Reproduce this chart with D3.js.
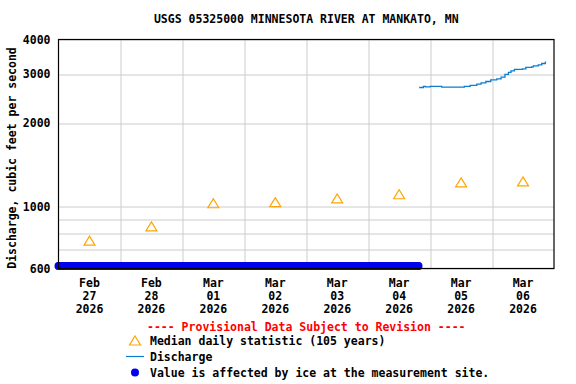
<!DOCTYPE html>
<html>
<head>
<meta charset="utf-8">
<script src="https://cdn.jsdelivr.net/npm/d3@7"></script>
<style>
  body { margin: 0; background: #fff; }
  text { font-family: "DejaVu Sans Mono", "Liberation Mono", monospace; font-weight: bold; font-size: 11.5px; }
</style>
</head>
<body>
<div id="wrapper"></div>
<script>
// daily medians (105 years), plotted at noon
const medianDays = ["2026-02-27", "2026-02-28", "2026-03-01", "2026-03-02", "2026-03-03", "2026-03-04", "2026-03-05", "2026-03-06"];
const medianValues = [756, 851, 1030, 1040, 1072, 1110, 1225, 1235];

// discharge, cfs (after ice went out)
const dischargeTimes = ["2026-03-04T19:45", "2026-03-04T21:25", "2026-03-04T22:10", "2026-03-05T00:00", "2026-03-05T04:30",
  "2026-03-05T12:50", "2026-03-05T13:15", "2026-03-05T15:30", "2026-03-05T18:05", "2026-03-05T19:45",
  "2026-03-05T21:35", "2026-03-05T23:30", "2026-03-06T01:50", "2026-03-06T03:30", "2026-03-06T05:00",
  "2026-03-06T06:20", "2026-03-06T07:20", "2026-03-06T08:40", "2026-03-06T11:45", "2026-03-06T13:05",
  "2026-03-06T15:20", "2026-03-06T16:00", "2026-03-06T17:55", "2026-03-06T19:15", "2026-03-06T20:40"];
const dischargeValues = [2688, 2711, 2700, 2711, 2696,
  2696, 2711, 2734, 2763, 2793,
  2825, 2863, 2887, 2928, 2994,
  3044, 3085, 3121, 3136, 3173,
  3188, 3215, 3242, 3279, 3334];

// period where values are affected by ice (15-minute readings)
const iceStart = "2026-02-27T00:00";
const iceEnd = "2026-03-04T19:30";

const yTicks = [600, 1000, 2000, 3000, 4000];
const yGrid = [600, 700, 800, 900, 1000, 2000, 3000, 4000];
const xDays = ["2026-02-27", "2026-02-28", "2026-03-01", "2026-03-02", "2026-03-03", "2026-03-04", "2026-03-05", "2026-03-06", "2026-03-07"];

const title = "USGS 05325000 MINNESOTA RIVER AT MANKATO, MN";
const yLabel = "Discharge, cubic feet per second";

const parse = d3.utcParse("%Y-%m-%dT%H:%M");
const parseDay = d3.utcParse("%Y-%m-%d");

const margin = {top: 39.5, right: 22, bottom: 115.5, left: 58.5};
const W = 576, H = 384;
const width = W - margin.left - margin.right;
const height = H - margin.top - margin.bottom;

const svg = d3.select("#wrapper").append("svg")
  .attr("width", W)
  .attr("height", H);

const g = svg.append("g")
  .attr("transform", `translate(${margin.left},${margin.top})`);

const xScale = d3.scaleUtc()
  .domain([parseDay(xDays[0]), parseDay(xDays[xDays.length - 1])])
  .range([0, width]);

const yScale = d3.scaleLog()
  .domain([600, 4000])
  .range([height, 0]);

const lineColor = "#0a7dcf";
const triColor = "#ffa500";
const iceColor = "#0000ee";

// grid
g.append("g").selectAll("line.h")
  .data(yGrid)
  .join("line")
  .attr("x1", 0).attr("x2", width)
  .attr("y1", d => Math.round(yScale(d)) + 0.5)
  .attr("y2", d => Math.round(yScale(d)) + 0.5)
  .attr("stroke", "#cccccc");

g.append("g").selectAll("line.v")
  .data(xDays.slice(1, -1).map(parseDay))
  .join("line")
  .attr("x1", d => Math.round(xScale(d)) + 0.5)
  .attr("x2", d => Math.round(xScale(d)) + 0.5)
  .attr("y1", 0).attr("y2", height)
  .attr("stroke", "#cccccc");

// y tick labels
g.append("g").selectAll("text")
  .data(yTicks)
  .join("text")
  .attr("x", -8)
  .attr("y", d => yScale(d))
  .attr("dy", "0.35em")
  .attr("text-anchor", "end")
  .text(d => d);

// x tick labels (at noon of each day)
const fmtMon = d3.utcFormat("%b"), fmtDay = d3.utcFormat("%d"), fmtYear = d3.utcFormat("%Y");
const xl = g.append("g").selectAll("text")
  .data(xDays.slice(0, -1).map(parseDay))
  .join("text")
  .attr("text-anchor", "middle")
  .attr("transform", d => `translate(${xScale(d3.utcHour.offset(d, 12))},${height + 18})`);
xl.append("tspan").attr("x", 0).attr("y", 0).text(d => fmtMon(d));
xl.append("tspan").attr("x", 0).attr("y", 13).text(d => fmtDay(d));
xl.append("tspan").attr("x", 0).attr("y", 26).text(d => fmtYear(d));

// open triangle marker, centred on its box
const tri = "M0,-4.5L5.5,4.5L-5.5,4.5Z";

// median triangles
g.append("g").selectAll("path")
  .data(medianDays.map((d, i) => ({t: d3.utcHour.offset(parseDay(d), 12), v: medianValues[i]})))
  .join("path")
  .attr("d", tri)
  .attr("transform", d => `translate(${xScale(d.t)},${yScale(d.v)})`)
  .attr("fill", "none")
  .attr("stroke", triColor)
  .attr("stroke-width", 1.2);

// discharge line
const discharge = dischargeTimes.map((d, i) => ({t: parse(d), v: dischargeValues[i]}));
g.append("path")
  .datum(discharge)
  .attr("fill", "none")
  .attr("stroke", lineColor)
  .attr("stroke-width", 1.3)
  .attr("d", d3.line().curve(d3.curveStepAfter).x(d => xScale(d.t)).y(d => yScale(d.v)));

// ice-affected readings, drawn at the bottom of the axis
const iceTimes = d3.utcMinute.every(15).range(parse(iceStart), d3.utcMinute.offset(parse(iceEnd), 1));
g.append("g").selectAll("circle")
  .data(iceTimes)
  .join("circle")
  .attr("cx", d => xScale(d))
  .attr("cy", yScale(600) - 2.5)
  .attr("r", 4)
  .attr("fill", iceColor);

// frame
g.append("rect")
  .attr("width", width).attr("height", height)
  .attr("fill", "none")
  .attr("stroke", "#000")
  .attr("stroke-width", 1.2);

// title and axis label
svg.append("text")
  .attr("x", margin.left + width / 2)
  .attr("y", 23)
  .attr("text-anchor", "middle")
  .text(title);

svg.append("text")
  .attr("transform", `translate(16,${margin.top + height / 2 + 4}) rotate(-90)`)
  .attr("text-anchor", "middle")
  .text(yLabel);

// legend
const lg = svg.append("g");
lg.append("text")
  .attr("x", margin.left + width / 2)
  .attr("y", 331)
  .attr("text-anchor", "middle")
  .attr("fill", "#ff0000")
  .text("---- Provisional Data Subject to Revision ----");

lg.append("path")
  .attr("d", tri)
  .attr("transform", "translate(135,340.5)")
  .attr("fill", "none")
  .attr("stroke", triColor)
  .attr("stroke-width", 1.2);
lg.append("text").attr("x", 150).attr("y", 345).text("Median daily statistic (105 years)");

lg.append("line")
  .attr("x1", 126).attr("x2", 144)
  .attr("y1", 356.5).attr("y2", 356.5)
  .attr("stroke", lineColor)
  .attr("stroke-width", 1.2);
lg.append("text").attr("x", 150).attr("y", 361).text("Discharge");

lg.append("circle")
  .attr("cx", 135).attr("cy", 372.5).attr("r", 4)
  .attr("fill", iceColor);
lg.append("text").attr("x", 150).attr("y", 377).text("Value is affected by ice at the measurement site.");
</script>
</body>
</html>
